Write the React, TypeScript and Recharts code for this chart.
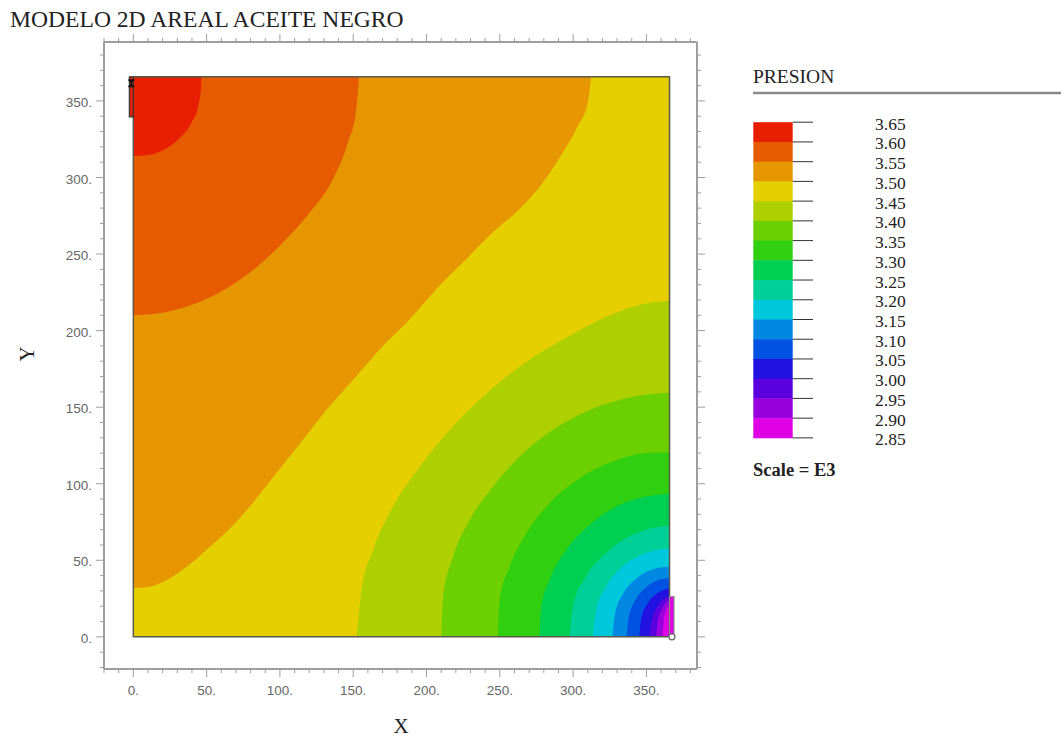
import React from 'react';
import { ComposedChart, Area, XAxis, YAxis, ReferenceArea, ReferenceDot } from 'recharts';

// ---------- axes / grid ----------
const GRID_MAX = 365.76;
const X_DOMAIN: [number, number] = [-20, 384.5];
const Y_DOMAIN: [number, number] = [-21, 388.5];
const majorTicks = [0, 50, 100, 150, 200, 250, 300, 350];
const xTicks = [-20, -10, 0, 10, 20, 30, 40, 50, 60, 70, 80, 90, 100, 110, 120, 130, 140, 150, 160, 170, 180, 190, 200, 210, 220, 230, 240, 250, 260, 270, 280, 290, 300, 310, 320, 330, 340, 350, 360, 370, 380];
const yTicks = [-20, -10, 0, 10, 20, 30, 40, 50, 60, 70, 80, 90, 100, 110, 120, 130, 140, 150, 160, 170, 180, 190, 200, 210, 220, 230, 240, 250, 260, 270, 280, 290, 300, 310, 320, 330, 340, 350, 360, 370, 380];

// ---------- legend ----------
const levels = ['3.65', '3.60', '3.55', '3.50', '3.45', '3.40', '3.35', '3.30', '3.25', '3.20', '3.15', '3.10', '3.05', '3.00', '2.95', '2.90', '2.85'];
const bandColors = ['#E81E00', '#E65A00', '#E69600', '#E6CF00', '#AECF00', '#6CCF00', '#30CF10', '#00CF52', '#00CF98', '#00C8DC', '#0088E2', '#0052E2', '#2212E2', '#5A00DE', '#9A00DE', '#E000E6'];

// ---------- contour lines ([x, y]) ----------
// upper-left family: region above the line is higher pressure
const c360 = [[0, 314], [9, 314.5], [20.4, 318], [31.8, 326], [39.7, 335.8], [44.3, 346.7], [46.1, 357.6], [46.5, 365.76]];
const c355 = [[0, 210], [13.6, 210.8], [34, 215], [56.7, 223.8], [79.5, 237.9], [102.1, 257.5], [120.3, 277.1], [136.2, 298.9], [146.4, 322.8], [152.1, 344.6], [154, 365.76]];
const c350 = [[0, 32], [7, 32.2], [22.9, 37.2], [36.6, 45.9], [52.4, 59], [68.3, 73.1], [81, 87], [97.9, 107.3], [116, 129.1], [134.1, 150.9], [152.3, 170.4], [170.4, 190.1], [188.6, 207.5], [206.8, 227.2], [224.9, 244.6], [245.3, 264.2], [263.5, 279.4], [279.4, 296.8], [293, 316.4], [303.2, 333.7], [310, 348.9], [312.3, 365.76]];
// lower-right family: region below the line is lower pressure
const c345 = [[152.3, 0], [155.7, 30.7], [163.6, 56.8], [177.2, 85.1], [195.4, 111.2], [215.9, 135.2], [238.5, 156.9], [263.5, 176.5], [288.5, 191.8], [318, 207], [345.2, 216.8], [365.76, 219.5]];
const c340 = [[210.2, 0], [211.3, 26.3], [218.1, 52.4], [229.5, 76.4], [245.3, 98.1], [263.5, 117.7], [286.2, 135.2], [311.2, 148.2], [336.2, 155.9], [358.8, 159.1], [365.76, 159.3]];
const c335 = [[248.7, 0], [249.9, 24.2], [256.7, 45.9], [268.1, 67.7], [284, 87.3], [304.4, 103.6], [327.1, 114.5], [349.8, 120], [365.76, 120.6]];
const c330 = [[277.1, 0], [278.3, 19.8], [283.9, 37.2], [295.3, 56.8], [311.2, 73.1], [329.4, 85.1], [349.8, 91.6], [365.76, 93.4]];
const c325 = [[297.6, 0], [299.8, 19.8], [308.9, 39.4], [322.5, 54.7], [340.7, 66.6], [356.6, 71.6], [365.76, 72.7]];
const c320 = [[313.4, 0], [315.7, 17.6], [322.5, 32.8], [333.9, 45.9], [349.8, 54.7], [365.76, 57.9]];
const c315 = [[326.8, 0], [328.5, 15], [334, 28], [343, 38], [354, 44], [365.76, 45.7]];
const c310 = [[336.5, 0], [338, 13], [342.5, 24], [349.5, 32], [357.5, 37], [365.76, 38.5]];
const c305 = [[345.2, 0], [346.5, 12], [351, 22], [357.5, 28.5], [365.76, 31.5]];
const c300 = [[352, 0], [353.5, 10], [357, 19], [361.5, 24.5], [365.76, 26.5]];
const c295 = [[356.6, 0], [357.5, 9], [360, 17], [363, 22], [365.76, 24]];
const c290 = [[361.1, 0], [361.7, 9], [363, 16], [365.76, 21]];
const baseSquare = [[0, 365.76], [365.76, 365.76]];

// wells
const wellTopLeft = { x1: -2.7, x2: 0, y1: 339.6, y2: 365.76 };
const wellBottomRight = { x1: 365.76, x2: 368.8, y1: 0, y2: 26.3 };
const wellMarker = { x: -1.4, y: 361.5 };
const wellCircle = { x: 367.4, y: 0 };

type Contour = { key: string; side: 'upper' | 'lower'; color: string; points: number[][] };
const contours: Contour[] = [
  { key: 'base', side: 'lower', color: bandColors[3], points: baseSquare },
  { key: 'c350', side: 'upper', color: bandColors[2], points: c350 },
  { key: 'c355', side: 'upper', color: bandColors[1], points: c355 },
  { key: 'c360', side: 'upper', color: bandColors[0], points: c360 },
  { key: 'c345', side: 'lower', color: bandColors[4], points: c345 },
  { key: 'c340', side: 'lower', color: bandColors[5], points: c340 },
  { key: 'c335', side: 'lower', color: bandColors[6], points: c335 },
  { key: 'c330', side: 'lower', color: bandColors[7], points: c330 },
  { key: 'c325', side: 'lower', color: bandColors[8], points: c325 },
  { key: 'c320', side: 'lower', color: bandColors[9], points: c320 },
  { key: 'c315', side: 'lower', color: bandColors[10], points: c315 },
  { key: 'c310', side: 'lower', color: bandColors[11], points: c310 },
  { key: 'c305', side: 'lower', color: bandColors[12], points: c305 },
  { key: 'c300', side: 'lower', color: bandColors[13], points: c300 },
  { key: 'c295', side: 'lower', color: bandColors[14], points: c295 },
  { key: 'c290', side: 'lower', color: bandColors[15], points: c290 },
];

const rowMap = new Map<number, any>();
contours.forEach((c) => {
  c.points.forEach(([x, y]) => {
    const row = rowMap.get(x) ?? { x };
    row[c.key] = c.side === 'upper' ? [y, GRID_MAX] : [0, y];
    rowMap.set(x, row);
  });
});
const tableData = Array.from(rowMap.values()).sort((a, b) => a.x - b.x);

// ---------- styles ----------
const FRAME = '#9e9e9e';
const TICK_LABEL = '#666';
const SANS = '"Liberation Sans", Arial, sans-serif';
const SERIF = '"Liberation Serif", "Times New Roman", serif';

const BottomTick = (p: any) => {
  const major = majorTicks.includes(p.payload.value);
  return (
    <g>
      <line x1={p.x} x2={p.x} y1={p.y} y2={p.y + (major ? 8 : 4)} stroke={FRAME} />
      {major && (
        <text x={p.x} y={p.y + 26} textAnchor="middle" fontSize={13.5} fontFamily={SANS} fill={TICK_LABEL}>{`${p.payload.value}.`}</text>
      )}
    </g>
  );
};
const TopTick = (p: any) => {
  const major = majorTicks.includes(p.payload.value);
  return <line x1={p.x} x2={p.x} y1={p.y} y2={p.y - (major ? 8 : 4)} stroke={FRAME} />;
};
const LeftTick = (p: any) => {
  const major = majorTicks.includes(p.payload.value);
  return (
    <g>
      <line x1={p.x} x2={p.x - (major ? 8 : 4)} y1={p.y} y2={p.y} stroke={FRAME} />
      {major && (
        <text x={p.x - 12} y={p.y + 6} textAnchor="end" fontSize={13.5} fontFamily={SANS} fill={TICK_LABEL}>{`${p.payload.value}.`}</text>
      )}
    </g>
  );
};
const RightTick = (p: any) => {
  const major = majorTicks.includes(p.payload.value);
  return <line x1={p.x} x2={p.x + (major ? 8 : 4)} y1={p.y} y2={p.y} stroke={FRAME} />;
};

const LEG_X = 753.3;
const LEG_TOP = 122.2;
const LEG_STEP = 19.73;
const LEG_W = 39.4;

export default function App() {
  return (
    <div style={{ position: 'absolute', left: 0, top: 0, width: 1061, height: 738, background: '#fff' }}>
      <ComposedChart
        width={1061}
        height={738}
        data={tableData}
        margin={{ top: 32, right: 354, bottom: 29, left: 44 }}
      >
        <XAxis xAxisId={0} dataKey="x" type="number" domain={X_DOMAIN} allowDataOverflow ticks={xTicks} interval={0}
          tickSize={0} tickMargin={0} tickLine={false} tick={BottomTick} axisLine={{ stroke: FRAME, strokeWidth: 2 }} height={40} />
        <XAxis xAxisId="top" orientation="top" dataKey="x" type="number" domain={X_DOMAIN} allowDataOverflow ticks={xTicks} interval={0}
          tickSize={0} tickMargin={0} tickLine={false} tick={TopTick} axisLine={{ stroke: FRAME, strokeWidth: 2 }} height={10} />
        <YAxis yAxisId={0} type="number" domain={Y_DOMAIN} allowDataOverflow ticks={yTicks} interval={0}
          tickSize={0} tickMargin={0} tickLine={false} tick={LeftTick} axisLine={{ stroke: FRAME, strokeWidth: 2 }} width={60} />
        <YAxis yAxisId="right" orientation="right" type="number" domain={Y_DOMAIN} allowDataOverflow ticks={yTicks} interval={0}
          tickSize={0} tickMargin={0} tickLine={false} tick={RightTick} axisLine={{ stroke: FRAME, strokeWidth: 2 }} width={10} />
        {contours.map((c) => (
          <Area
            key={c.key}
            dataKey={c.key}
            type="monotone"
            fill={c.color}
            fillOpacity={1}
            stroke="none"
            connectNulls
            dot={false}
            activeDot={false}
            isAnimationActive={false}
          />
        ))}
        <ReferenceArea x1={0} x2={GRID_MAX} y1={0} y2={GRID_MAX} fill="none" stroke="#5a5a4a" strokeWidth={1.5} ifOverflow="visible" />
        <ReferenceArea {...wellTopLeft} fill={bandColors[0]} fillOpacity={1} stroke="#333" strokeWidth={1.2} ifOverflow="visible" />
        <ReferenceArea {...wellBottomRight} fill={bandColors[15]} fillOpacity={1} stroke="#888" strokeWidth={1.2} ifOverflow="visible" />
        <ReferenceDot x={wellCircle.x} y={wellCircle.y} r={3} fill="#fff" stroke="#666" strokeWidth={1.2} ifOverflow="visible" />
        <ReferenceDot
          x={wellMarker.x}
          y={wellMarker.y}
          ifOverflow="visible"
          shape={(p: any) => (
            <path d={`M${p.cx - 3},${p.cy - 3.5} L${p.cx + 3},${p.cy - 3.5} L${p.cx - 3},${p.cy + 3.5} L${p.cx + 3},${p.cy + 3.5} Z`} fill="#111" stroke="#111" strokeWidth={0.8} />
          )}
        />
      </ComposedChart>

      <svg width={1061} height={738} style={{ position: 'absolute', left: 0, top: 0, pointerEvents: 'none' }}>
        <text x={10} y={26.5} fontFamily={SERIF} fontSize={23.6} fill="#222">MODELO 2D AREAL ACEITE NEGRO</text>
        <text x={401} y={733} fontFamily={SERIF} fontSize={21} fill="#222" textAnchor="middle">X</text>
        <text x={34} y={354} fontFamily={SERIF} fontSize={21} fill="#222" textAnchor="middle" transform="rotate(-90 34 354)">Y</text>

        <text x={753} y={83.3} fontFamily={SERIF} fontSize={19.5} fill="#222">PRESION</text>
        <line x1={753} x2={1061} y1={93} y2={93} stroke="#8a8a8a" strokeWidth={2.5} />
        {bandColors.map((c, i) => (
          <rect key={c} x={LEG_X} y={LEG_TOP + i * LEG_STEP} width={LEG_W} height={LEG_STEP + 0.4} fill={c} />
        ))}
        {levels.map((l, i) => (
          <g key={l}>
            <line x1={LEG_X + LEG_W} x2={813} y1={LEG_TOP + i * LEG_STEP} y2={LEG_TOP + i * LEG_STEP} stroke="#333" strokeWidth={1} />
            <text x={875} y={LEG_TOP + i * LEG_STEP + 7.5} fontFamily={SERIF} fontSize={17.5} fill="#222">{l}</text>
          </g>
        ))}
        <text x={753} y={476} fontFamily={SERIF} fontSize={18.5} fontWeight="bold" fill="#222">Scale = E3</text>
      </svg>
    </div>
  );
}
